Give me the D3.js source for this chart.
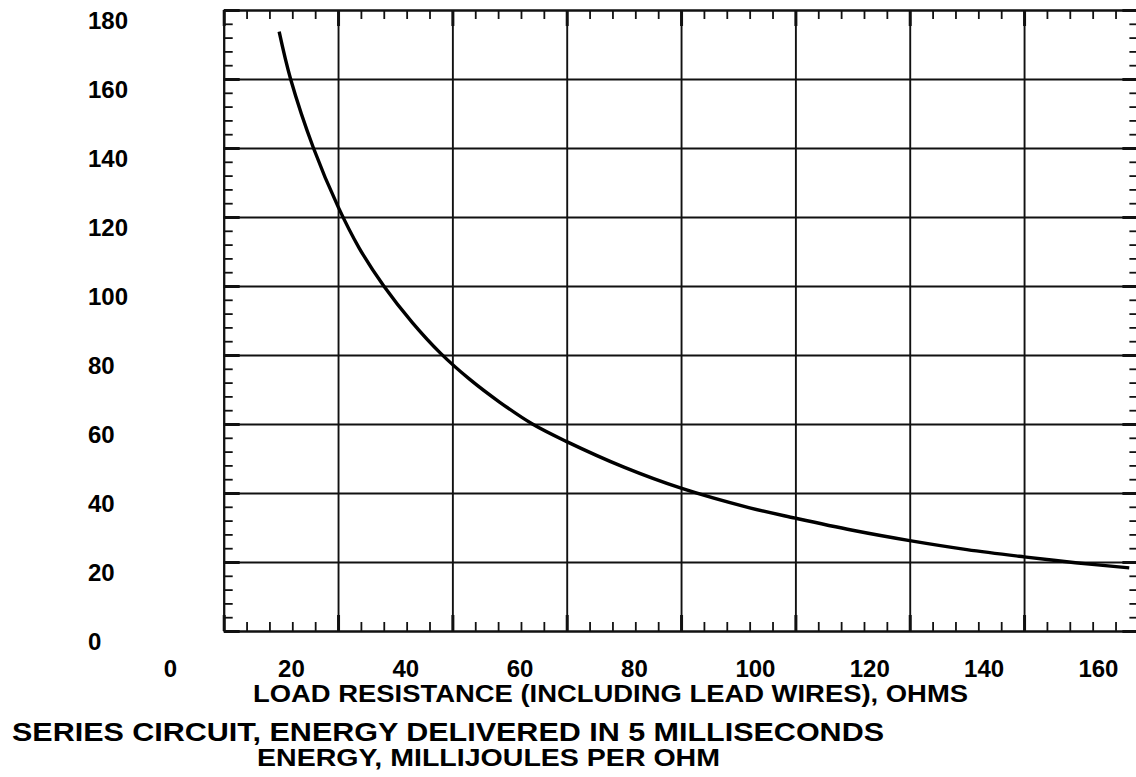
<!DOCTYPE html>
<html>
<head>
    <meta charset="UTF-8">
    <title>Series Circuit Energy</title>
    <style>
        body { margin: 0; background: #fff; }
        text {
            font-family: "Liberation Sans", Arial, sans-serif;
            font-weight: bold;
            fill: #000;
        }
        .tick-label { font-size: 24px; }
        .grid line { stroke: #111; stroke-width: 1.9; }
        .grid path { stroke: none; }
        .frame path { stroke: #111; stroke-width: 2.3; fill: none; }
        .minor line { stroke: #111; stroke-width: 1.8; }
        .major line { stroke: #111; stroke-width: 3; }
        .curve { fill: none; stroke: #000; stroke-width: 3.4; }
    </style>
    <script src="https://d3js.org/d3.v7.min.js"></script>
</head>
<body>
<div id="chart"></div>
<script>
    // load resistance, ohms
    const resistance = [9.7, 11.7, 15.7, 20, 23.7, 28, 33, 38, 43, 48.3, 54, 60, 70, 80, 92, 100, 110, 120, 130, 140, 149, 158.4];
    // energy, millijoules per ohm
    const energy = [173.7, 160, 140, 123, 111, 100, 89.4, 80.4, 73, 66.3, 60, 54.9, 47.5, 41.4, 35.7, 32.7, 29.2, 26.2, 23.6, 21.5, 19.8, 18.3];

    const xTicks = [0, 20, 40, 60, 80, 100, 120, 140, 160];
    const yTicks = [0, 20, 40, 60, 80, 100, 120, 140, 160, 180];
    const xMinor = d3.range(0, 161, 4).filter(v => v % 20 !== 0);
    const yMinor = d3.range(0, 181, 4).filter(v => v % 20 !== 0);

    const xTitle = "LOAD RESISTANCE (INCLUDING LEAD WIRES), OHMS";
    const chartTitle = "SERIES CIRCUIT, ENERGY DELIVERED IN 5 MILLISECONDS";
    const yTitle = "ENERGY, MILLIJOULES PER OHM";

    const W = 1136, H = 777;
    const pLeft = 223.7, pRight = 1138.4, pTop = 10, pBottom = 631;

    const svg = d3.select("#chart").append("svg")
        .attr("width", W)
        .attr("height", H);

    const x = d3.scaleLinear().domain([0, 160]).range([pLeft, pRight]);
    const y = d3.scaleLinear().domain([0, 180]).range([pBottom, pTop]);

    // grid
    svg.append("g")
        .attr("class", "grid")
        .attr("transform", `translate(0,${pBottom})`)
        .call(d3.axisBottom(x).tickValues(xTicks.slice(1, -1)).tickSize(-(pBottom - pTop)).tickSizeOuter(0).tickFormat(""));
    svg.append("g")
        .attr("class", "grid")
        .attr("transform", `translate(${pLeft},0)`)
        .call(d3.axisLeft(y).tickValues(yTicks.slice(1, -1)).tickSize(-(pRight - pLeft)).tickSizeOuter(0).tickFormat(""));

    // frame + inward ticks on all four sides
    const sides = [
        {axis: d3.axisBottom(x), tr: `translate(0,${pBottom})`, minor: xMinor, major: xTicks},
        {axis: d3.axisTop(x), tr: `translate(0,${pTop})`, minor: xMinor, major: xTicks},
        {axis: d3.axisLeft(y), tr: `translate(${pLeft},0)`, minor: yMinor, major: yTicks},
        {axis: d3.axisRight(y), tr: `translate(${pRight},0)`, minor: yMinor, major: yTicks}
    ];
    sides.forEach(s => {
        svg.append("g")
            .attr("class", "minor")
            .attr("transform", s.tr)
            .call(s.axis.tickValues(s.minor).tickSize(-9).tickSizeOuter(0).tickFormat(""))
            .select(".domain").remove();
        svg.append("g")
            .attr("class", "major frame")
            .attr("transform", s.tr)
            .call(s.axis.tickValues(s.major).tickSize(-16).tickSizeOuter(0).tickFormat(""));
    });

    // x tick labels (printed left of their grid lines in the original)
    svg.append("g")
        .attr("transform", `translate(0,${pBottom})`)
        .call(d3.axisBottom(x).tickValues(xTicks).tickSize(0))
        .call(g => g.select(".domain").remove())
        .selectAll("text")
            .attr("class", "tick-label")
            .attr("text-anchor", "start")
            .attr("x", -60.5)
            .attr("y", 46)
            .attr("dy", null);

    // y tick labels
    svg.append("g")
        .attr("transform", `translate(${pLeft},0)`)
        .call(d3.axisLeft(y).tickValues(yTicks).tickSize(0))
        .call(g => g.select(".domain").remove())
        .selectAll("text")
            .attr("class", "tick-label")
            .attr("text-anchor", "start")
            .attr("x", 88 - pLeft)
            .attr("y", 18.5)
            .attr("dy", null);

    // curve
    const pts = resistance.map((r, i) => [r, energy[i]]);
    svg.append("path")
        .datum(pts)
        .attr("class", "curve")
        .attr("d", d3.line().x(d => x(d[0])).y(d => y(d[1])).curve(d3.curveCatmullRom.alpha(0.5)));

    // titles
    svg.append("text")
        .attr("x", 253).attr("y", 702)
        .style("font-size", "24px")
        .attr("textLength", 715).attr("lengthAdjust", "spacingAndGlyphs")
        .text(xTitle);
    svg.append("text")
        .attr("x", 12).attr("y", 741)
        .style("font-size", "25px")
        .attr("textLength", 872).attr("lengthAdjust", "spacingAndGlyphs")
        .text(chartTitle);
    svg.append("text")
        .attr("x", 257).attr("y", 765.5)
        .style("font-size", "23px")
        .attr("textLength", 463).attr("lengthAdjust", "spacingAndGlyphs")
        .text(yTitle);
</script>
</body>
</html>
